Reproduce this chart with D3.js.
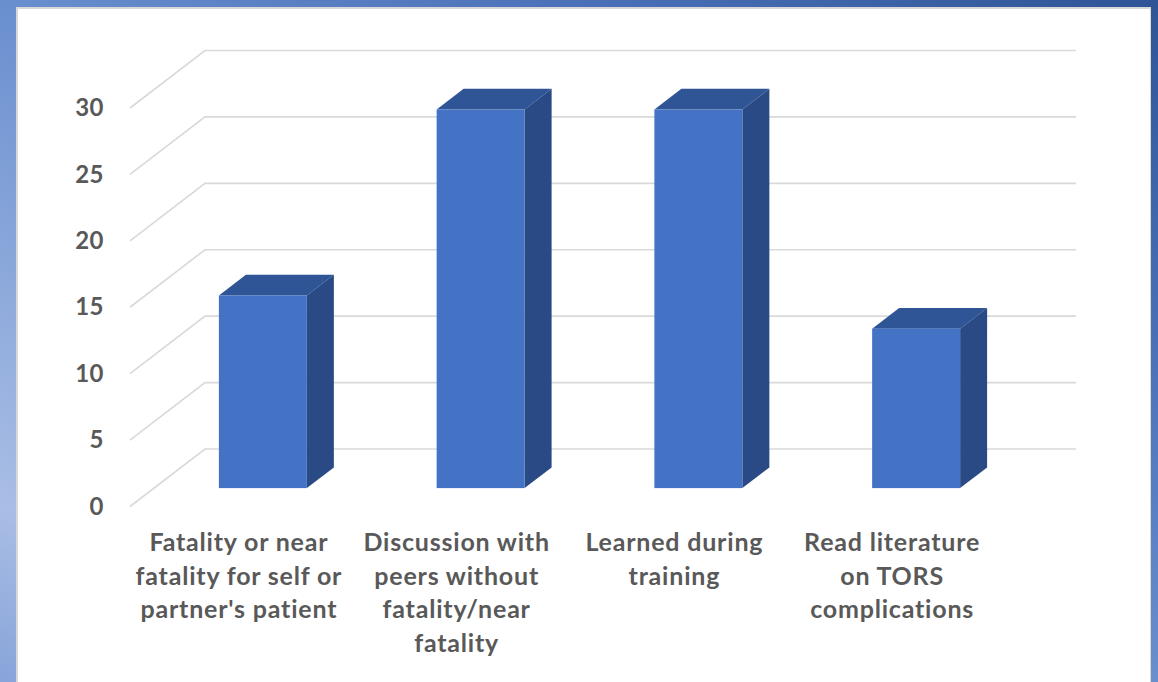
<!DOCTYPE html>
<html>
<head>
<meta charset="utf-8">
<script src="https://cdn.jsdelivr.net/npm/d3@7/dist/d3.min.js"></script>
<style>
  html, body { margin: 0; padding: 0; background: #ffffff; }
  svg { display: block; }
</style>
</head>
<body>
<svg id="chart" width="1158" height="682"></svg>
<script>
// Category labels, pre-wrapped into lines as they appear under each column
const categories = [
  ["Fatality or near", "fatality for self or", "partner's patient"],
  ["Discussion with", "peers without", "fatality/near", "fatality"],
  ["Learned during", "training"],
  ["Read literature", "on TORS", "complications"]
];
const values = [14.5, 28.5, 28.5, 12];
const yTicks = [0, 5, 10, 15, 20, 25, 30];

const W = 1158, H = 682;
const svg = d3.select("#chart");

// Backdrop: blue gradient frame behind a white card
const defs = svg.append("defs");
const bg = defs.append("linearGradient").attr("id", "bg")
  .attr("x1", 0).attr("y1", 1).attr("x2", 1).attr("y2", 0);
[[0, "#87a3d9"], [0.13, "#a9bee5"], [0.5, "#6a8fcf"], [0.75, "#4a70b8"], [1, "#2f5597"]]
  .forEach(([o, c]) => bg.append("stop").attr("offset", o).attr("stop-color", c));
svg.append("rect").attr("width", W).attr("height", H).attr("fill", "url(#bg)");

const card = { x: 17, y: 8, w: 1133, h: 674 };
svg.append("rect").attr("x", card.x - 1).attr("y", card.y - 1)
  .attr("width", card.w + 2).attr("height", card.h + 2).attr("fill", "#d8d8d8");
svg.append("rect").attr("x", card.x + 1).attr("y", card.y + 1)
  .attr("width", card.w - 1).attr("height", card.h).attr("fill", "#ffffff");

// Front-plane scales; depth is an oblique offset toward the back wall
const plotLeft = 130, plotRight = 1001;
const DX = 75, DY = -57.5;          // full floor depth
const zFront = 0.32, zBack = 0.68;  // column depth span

const y = d3.scaleLinear().domain([0, 30]).range([506.5, 108]);
const x = d3.scaleBand().domain(d3.range(categories.length))
  .range([plotLeft, plotRight]).paddingInner(0.596).paddingOuter(0.298);

// Gridlines: diagonal along the side wall, then across the back wall
const grid = svg.append("g").attr("fill", "none").attr("stroke", "#d9d9d9").attr("stroke-width", 1.6);
grid.selectAll("path").data(yTicks).join("path")
  .attr("d", v => {
    const y0 = y(v);
    return `M${plotLeft},${y0} L${plotLeft + DX},${y0 + DY} L${plotRight + DX},${y0 + DY}`;
  });

// Value axis labels
const axis = svg.append("g").attr("transform", "translate(104,0)")
  .call(d3.axisLeft(y).tickValues(yTicks).tickSize(0).tickPadding(0));
axis.select(".domain").remove();
axis.selectAll("text")
  .attr("fill", "#595959")
  .style("font-family", "Lato, 'Open Sans', sans-serif")
  .style("font-weight", "700")
  .style("font-size", "24px")
  .style("letter-spacing", "0.5px");

// 3-D columns: top, side and front faces
const depthX = (zBack - zFront) * DX, depthY = (zBack - zFront) * DY;
const bars = svg.append("g").selectAll("g").data(values).join("g");
bars.each(function (v, i) {
  const g = d3.select(this);
  const X = x(i) + zFront * DX;
  const w = x.bandwidth();
  const yTop = y(v) + zFront * DY;
  const yBot = y(0) + zFront * DY;
  g.append("path").attr("fill", "#2f5597")
    .attr("d", `M${X},${yTop} L${X + w},${yTop} L${X + w + depthX},${yTop + depthY} L${X + depthX},${yTop + depthY}Z`);
  g.append("path").attr("fill", "#294a85")
    .attr("d", `M${X + w},${yTop} L${X + w + depthX},${yTop + depthY} L${X + w + depthX},${yBot + depthY} L${X + w},${yBot}Z`);
  g.append("rect").attr("fill", "#4472c4")
    .attr("x", X).attr("y", yTop).attr("width", w).attr("height", yBot - yTop);
});

// Category labels centred under each band
const labels = svg.append("g")
  .attr("fill", "#595959")
  .style("font-family", "Lato, 'Open Sans', sans-serif")
  .style("font-weight", "700")
  .style("font-size", "25px")
  .style("letter-spacing", "0.8px")
  .attr("text-anchor", "middle");
labels.selectAll("text").data(categories).join("text")
  .attr("x", (d, i) => x(i) + x.bandwidth() / 2)
  .attr("y", 551)
  .selectAll("tspan").data(d => d).join("tspan")
  .attr("x", function () { return d3.select(this.parentNode).attr("x"); })
  .attr("dy", (d, j) => j === 0 ? 0 : 33.5)
  .text(d => d);
</script>
</body>
</html>
